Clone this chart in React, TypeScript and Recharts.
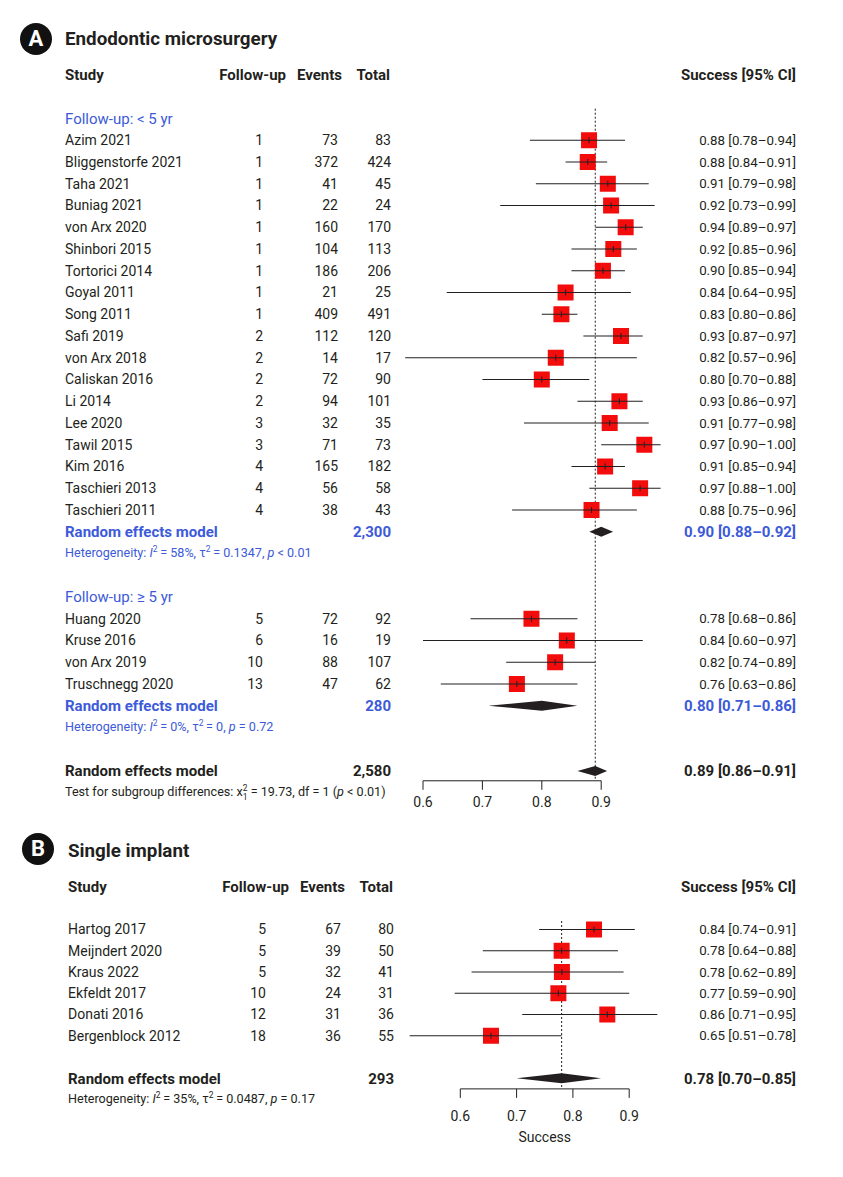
import React from "react";
import { ScatterChart, Scatter, XAxis, YAxis, ReferenceLine } from "recharts";

const FONT = "Roboto, 'Noto Sans', sans-serif";
const INK = "#231f20";
const BLUE = "#3c5ad9";
const RED = "#f20c0c";
const W = 835;

// Panel A, follow-up < 5 yr
const namesA1 = [
  "Azim 2021", "Bliggenstorfe 2021", "Taha 2021", "Buniag 2021", "von Arx 2020",
  "Shinbori 2015", "Tortorici 2014", "Goyal 2011", "Song 2011", "Safi 2019",
  "von Arx 2018", "Caliskan 2016", "Li 2014", "Lee 2020", "Tawil 2015",
  "Kim 2016", "Taschieri 2013", "Taschieri 2011",
];
const followA1 = [1, 1, 1, 1, 1, 1, 1, 1, 1, 2, 2, 2, 2, 3, 3, 4, 4, 4];
const eventsA1 = [73, 372, 41, 22, 160, 104, 186, 21, 409, 112, 14, 72, 94, 32, 71, 165, 56, 38];
const totalA1 = [83, 424, 45, 24, 170, 113, 206, 25, 491, 120, 17, 90, 101, 35, 73, 182, 58, 43];
const lowerA1 = [0.78, 0.84, 0.79, 0.73, 0.89, 0.85, 0.85, 0.64, 0.8, 0.87, 0.57, 0.7, 0.86, 0.77, 0.9, 0.85, 0.88, 0.75];
const upperA1 = [0.94, 0.91, 0.98, 0.99, 0.97, 0.96, 0.94, 0.95, 0.86, 0.97, 0.96, 0.88, 0.97, 0.98, 1.0, 0.94, 1.0, 0.96];

// Panel A, follow-up >= 5 yr
const namesA2 = ["Huang 2020", "Kruse 2016", "von Arx 2019", "Truschnegg 2020"];
const followA2 = [5, 6, 10, 13];
const eventsA2 = [72, 16, 88, 47];
const totalA2 = [92, 19, 107, 62];
const lowerA2 = [0.68, 0.6, 0.74, 0.63];
const upperA2 = [0.86, 0.97, 0.89, 0.86];

// pooled [estimate, lower, upper]
const pooledA1 = [0.9, 0.88, 0.92];
const pooledA2 = [0.8, 0.71, 0.86];
const pooledA = [0.89, 0.86, 0.91];
const sumTotalsA = ["2,300", "280", "2,580"];
const hetA1 = { i2: "58%", tau2: "0.1347", p: "< 0.01" };
const hetA2 = { i2: "0%", tau2: "0", p: "= 0.72" };
const subgroupTest = { chi2: "19.73", df: "1", p: "< 0.01" };

// Panel B, single implant
const namesB = ["Hartog 2017", "Meijndert 2020", "Kraus 2022", "Ekfeldt 2017", "Donati 2016", "Bergenblock 2012"];
const followB = [5, 5, 5, 10, 12, 18];
const eventsB = [67, 39, 32, 24, 31, 36];
const totalB = [80, 50, 41, 31, 36, 55];
const lowerB = [0.74, 0.64, 0.62, 0.59, 0.71, 0.51];
const upperB = [0.91, 0.88, 0.89, 0.9, 0.95, 0.78];
const pooledB = [0.78, 0.7, 0.85];
const sumTotalB = "293";
const hetB = { i2: "35%", tau2: "0.0487", p: "= 0.17" };

const axisTicks = [0.6, 0.7, 0.8, 0.9];

type Het = { i2: string; tau2: string; p: string };
type Test = { chi2: string; df: string; p: string };
type Row = {
  y: number;
  kind: "head" | "group" | "study" | "model";
  label: string;
  follow?: number;
  events?: number;
  total?: string;
  x?: number;
  lo?: number;
  hi?: number;
  blue?: boolean;
  het?: Het;
  test?: Test;
};

const studyRows = (
  names: string[], follow: number[], events: number[], total: number[],
  lower: number[], upper: number[], start: number
): Row[] =>
  names.map((label, i) => ({
    kind: "study",
    y: start + i,
    label,
    follow: follow[i],
    events: events[i],
    total: String(total[i]),
    x: events[i] / total[i],
    lo: lower[i],
    hi: upper[i],
  }));

const pooledRow = (y: number, p: number[], total: string, extra: Partial<Row>): Row => ({
  kind: "model", y, label: "Random effects model", total, x: p[0], lo: p[1], hi: p[2], ...extra,
});

const rowsA: Row[] = [
  { kind: "head", y: 0, label: "Study" },
  { kind: "group", y: 2, label: "Follow-up: < 5 yr" },
  ...studyRows(namesA1, followA1, eventsA1, totalA1, lowerA1, upperA1, 3),
  pooledRow(21, pooledA1, sumTotalsA[0], { blue: true, het: hetA1 }),
  { kind: "group", y: 24, label: "Follow-up: \u2265 5 yr" },
  ...studyRows(namesA2, followA2, eventsA2, totalA2, lowerA2, upperA2, 25),
  pooledRow(29, pooledA2, sumTotalsA[1], { blue: true, het: hetA2 }),
  pooledRow(32, pooledA, sumTotalsA[2], { test: subgroupTest }),
];

const rowsB: Row[] = [
  { kind: "head", y: 0, label: "Study" },
  ...studyRows(namesB, followB, eventsB, totalB, lowerB, upperB, 2),
  pooledRow(9, pooledB, sumTotalB, { het: hetB }),
];

const ci = (r: Row) => `${r.x!.toFixed(2)} [${r.lo!.toFixed(2)}\u2013${r.hi!.toFixed(2)}]`;

type Layout = {
  height: number; top: number; bottom: number; rowH: number; axisRow: number;
  domain: [number, number]; x06: number; unit: number; tickMargin: number;
  lineTop: number; subDy: number; xLabel?: string;
  cols: { name: number; follow: number; events: number; total: number; ci: number; hFollow: number; hEvents: number; hTotal: number };
};

const layoutA: Layout = {
  height: 807, top: 67, bottom: 0, rowH: 21.75, axisRow: 32.45,
  domain: [0.5, 1.05], x06: 415, unit: 594, tickMargin: 7, lineTop: 1.55, subDy: 21,
  cols: { name: 57, follow: 255, events: 330, total: 383, ci: 788, hFollow: 278, hEvents: 334, hTotal: 382 },
};

const layoutB: Layout = {
  height: 354, top: 72, bottom: 20, rowH: 21.25, axisRow: 9.5,
  domain: [0.45, 1.0], x06: 452.3, unit: 563, tickMargin: 13, lineTop: 1.6, subDy: 20, xLabel: "Success",
  cols: { name: 60, follow: 258, events: 333, total: 386, ci: 788, hFollow: 281, hEvents: 337, hTotal: 385 },
};

const Sup = ({ children }: { children: string }) => (
  <>
    <tspan dy={-5} fontSize={8.5}>{children}</tspan>
    <tspan dy={5}>{"\u2009"}</tspan>
  </>
);

const RowTick = ({ y, value, rows, L }: { y: number; value: number; rows: Row[]; L: Layout }) => {
  const r = rows.find((d) => d.y === value);
  if (!r) return null;
  const c = L.cols;
  const t = { fontFamily: FONT, dy: "0.35em" };
  if (r.kind === "head") {
    const h = { ...t, fontSize: 15, fontWeight: 700, fill: INK, y };
    return (
      <g>
        <text {...h} x={c.name}>Study</text>
        <text {...h} x={c.hFollow} textAnchor="end">Follow-up</text>
        <text {...h} x={c.hEvents} textAnchor="end">Events</text>
        <text {...h} x={c.hTotal} textAnchor="end">Total</text>
        <text {...h} x={c.ci} textAnchor="end">Success [95% CI]</text>
      </g>
    );
  }
  if (r.kind === "group") {
    return <text {...t} x={c.name} y={y} fontSize={15} fill={BLUE}>{r.label}</text>;
  }
  if (r.kind === "study") {
    const s = { ...t, fontSize: 14, fill: INK, y };
    return (
      <g>
        <text {...s} x={c.name}>{r.label}</text>
        <text {...s} x={c.follow} textAnchor="end">{r.follow}</text>
        <text {...s} x={c.events} textAnchor="end">{r.events}</text>
        <text {...s} x={c.total} textAnchor="end">{r.total}</text>
        <text {...s} x={c.ci} textAnchor="end" fontSize={13.3}>{ci(r)}</text>
      </g>
    );
  }
  const col = r.blue ? BLUE : INK;
  const m = { ...t, fontSize: 15, fontWeight: 700, fill: col, y };
  const sub = { ...t, fontSize: 12.6, fill: col, x: c.name, y: y + L.subDy };
  return (
    <g>
      <text {...m} x={c.name}>{r.label}</text>
      <text {...m} x={c.total} textAnchor="end">{r.total}</text>
      <text {...m} x={c.ci} textAnchor="end">{ci(r)}</text>
      {r.het && (
        <text {...sub}>
          {"Heterogeneity: "}
          <tspan fontStyle="italic">I</tspan>
          <Sup>2</Sup>
          {`= ${r.het.i2}, \u03c4`}
          <Sup>2</Sup>
          {`= ${r.het.tau2}, `}
          <tspan fontStyle="italic">p</tspan>
          {` ${r.het.p}`}
        </text>
      )}
      {r.test && (
        <text {...sub} fill={INK}>
          {"Test for subgroup differences: x"}
          <tspan dy={-5} fontSize={8.5}>2</tspan>
          <tspan dx={-4.8} dy={9} fontSize={8.5}>1</tspan>
          <tspan dy={-4}>{` = ${r.test.chi2}, df = ${r.test.df} (`}</tspan>
          <tspan fontStyle="italic">p</tspan>
          {` ${r.test.p})`}
        </text>
      )}
    </g>
  );
};

const Square = (p: any) => {
  const { cx, cy } = p;
  return (
    <g>
      <rect x={cx - 8} y={cy - 8} width={16} height={16} fill={RED} />
      <line x1={cx - 8} x2={cx + 8} y1={cy} y2={cy} stroke={INK} strokeWidth={1} />
      <line x1={cx} x2={cx} y1={cy - 3} y2={cy + 3} stroke={INK} strokeWidth={1} />
    </g>
  );
};

const diamond = (r: Row) => (p: any) => {
  const { x1, x2, y1 } = p;
  const xm = x1 + ((r.x! - r.lo!) / (r.hi! - r.lo!)) * (x2 - x1);
  return <polygon points={`${x1},${y1} ${xm},${y1 - 5} ${x2},${y1} ${xm},${y1 + 5}`} fill={INK} />;
};

const ForestPanel = ({ rows, pooled, L }: { rows: Row[]; pooled: number[]; L: Layout }) => {
  const plotLeft = L.x06 - (0.6 - L.domain[0]) * L.unit;
  const plotRight = L.x06 + (L.domain[1] - 0.6) * L.unit;
  const xAxisHeight = L.height - L.bottom - L.top - L.axisRow * L.rowH;
  const studies = rows.filter((r) => r.kind === "study");
  const models = rows.filter((r) => r.kind === "model");
  return (
    <ScatterChart
      width={W}
      height={L.height}
      margin={{ top: L.top, right: W - plotRight, bottom: L.bottom, left: 0 }}
    >
      <XAxis
        type="number"
        dataKey="x"
        domain={L.domain}
        ticks={axisTicks}
        interval={0}
        axisLine={false}
        tickLine={{ stroke: INK }}
        tickSize={9}
        tickMargin={L.tickMargin}
        height={xAxisHeight}
        tick={{ fill: INK, fontSize: 14, fontFamily: FONT }}
      />
      <YAxis
        type="number"
        dataKey="y"
        domain={[0, L.axisRow]}
        reversed
        ticks={rows.map((r) => r.y)}
        interval={0}
        width={plotLeft}
        axisLine={false}
        tickLine={false}
        tick={(p: any) => <RowTick y={p.y} value={p.payload.value} rows={rows} L={L} />}
      />
      <ReferenceLine
        segment={[{ x: pooled[0], y: L.lineTop }, { x: pooled[0], y: L.axisRow }]}
        stroke={INK}
        strokeDasharray="2 2"
        ifOverflow="visible"
      />
      <ReferenceLine
        segment={[{ x: 0.6, y: L.axisRow }, { x: 0.9, y: L.axisRow }]}
        stroke={INK}
        ifOverflow="visible"
        label={L.xLabel ? { value: L.xLabel, position: "bottom", offset: 43, fill: INK, fontSize: 14, fontFamily: FONT } : undefined}
      />
      {studies.map((r) => (
        <ReferenceLine
          key={`ci-${r.y}`}
          segment={[{ x: r.lo, y: r.y }, { x: r.hi, y: r.y }]}
          stroke={INK}
          strokeWidth={1.1}
          ifOverflow="visible"
        />
      ))}
      {models.map((r) => (
        <ReferenceLine
          key={`pm-${r.y}`}
          segment={[{ x: r.lo, y: r.y }, { x: r.hi, y: r.y }]}
          ifOverflow="visible"
          shape={diamond(r)}
        />
      ))}
      <Scatter data={studies} shape={Square} isAnimationActive={false} />
    </ScatterChart>
  );
};

const Badge = ({ letter, left, top }: { letter: string; left: number; top: number }) => (
  <div
    style={{
      position: "absolute", left, top, width: 32, height: 32, borderRadius: 16,
      background: "#111", color: "#fff", fontWeight: 700, fontSize: 22,
      lineHeight: "32px", textAlign: "center",
    }}
  >
    {letter}
  </div>
);

const Title = ({ text, left, top }: { text: string; left: number; top: number }) => (
  <div style={{ position: "absolute", left, top, fontSize: 18.8, fontWeight: 700, color: INK, lineHeight: "24px" }}>
    {text}
  </div>
);

export default function App() {
  return (
    <div style={{ position: "relative", width: W, height: 1169, fontFamily: FONT, background: "#fff" }}>
      <div style={{ position: "absolute", left: 0, top: 0 }}>
        <ForestPanel rows={rowsA} pooled={pooledA} L={layoutA} />
      </div>
      <div style={{ position: "absolute", left: 0, top: 807 }}>
        <ForestPanel rows={rowsB} pooled={pooledB} L={layoutB} />
      </div>
      <Badge letter="A" left={12} top={15} />
      <Title text="Endodontic microsurgery" left={57} top={19} />
      <Badge letter="B" left={14} top={825} />
      <Title text="Single implant" left={60} top={831} />
    </div>
  );
}
